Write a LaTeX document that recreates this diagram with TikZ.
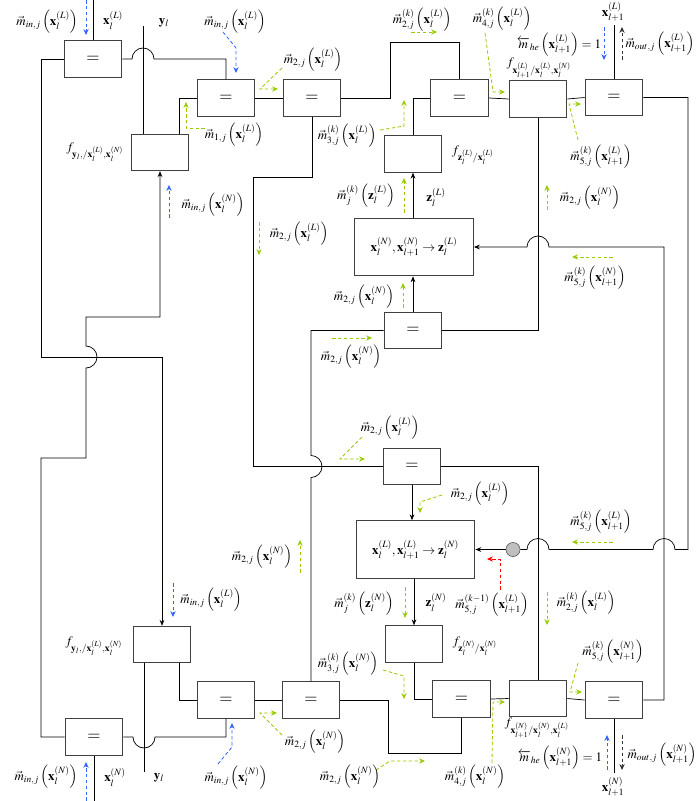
\documentclass[tikz,border=0pt]{standalone}
\usepackage{amsmath,amssymb}
\usepackage{mathptmx}
\usetikzlibrary{arrows.meta,calc}

\definecolor{msggreen}{RGB}{153,204,0}
\definecolor{msgblue}{RGB}{51,102,255}
\definecolor{msgred}{RGB}{255,0,0}

\newcommand{\xv}[2]{\mathbf{x}_{#1}^{(#2)}}
\newcommand{\zv}[1]{\mathbf{z}_{l}^{(#1)}}
\newcommand{\mm}[2]{\vec{m}_{#1}\left(#2\right)}
\newcommand{\mk}[3]{\vec{m}_{#2}^{(#1)}\left(#3\right)}
\newcommand{\mhe}{\overleftarrow{m}}

\tikzset{
  wire/.style={line width=0.6pt},
  wirearrow/.style={wire, -{Stealth[length=5pt,width=4pt]}},
  eqbox/.style={draw=black!75, line width=0.8pt, minimum width=49pt,
    minimum height=31pt, inner sep=0pt, font=\Large},
  fbox/.style={eqbox},
  mapbox/.style={draw=black!75, line width=0.8pt, minimum width=101pt,
    minimum height=49pt, inner sep=0pt},
  lab/.style={inner sep=0.5pt},
  msg/.style={dash pattern=on 3pt off 2pt, line width=0.7pt,
    -{Stealth[length=5pt,width=4.5pt]}},
  gmsg/.style={msg, msggreen},
  bmsg/.style={msg, msgblue},
  rmsg/.style={msg, msgred},
  kmsg/.style={msg, black!80},
}

\begin{document}
\begin{tikzpicture}[x=0.85pt, y=-0.85pt, font=\fontsize{11}{13}\selectfont]
    \useasboundingbox (0,0) rectangle (695,801);
    % factor nodes, upper half
    \node[eqbox] (eqA) at (93,59) {$=$};
    \node[fbox] (fyT) at (160,152.5) {};
    \node[eqbox] (eqB) at (226,98) {$=$};
    \node[eqbox] (eqC) at (312,98) {$=$};
    \node[eqbox] (eqD) at (459.5,98) {$=$};
    \node[fbox] (fxT) at (538,99) {};
    \node[eqbox] (eqJ) at (614,97.5) {$=$};
    \node[fbox] (fzT) at (413,154) {};
    \node[mapbox] (mapT) at (414,247) {$\xv{l}{N},\xv{l+1}{N}\rightarrow\zv{L}$};
    \node[eqbox] (eqG) at (413,330.5) {$=$};
    % factor nodes, lower half
    \node[eqbox] (eqE) at (412,466.5) {$=$};
    \node[mapbox] (mapB) at (415.5,549.5) {$\xv{l}{L},\xv{l+1}{L}\rightarrow\zv{N}$};
    \node[circle, draw=black!75, fill=gray!50, minimum size=12pt, inner sep=0pt] (dot) at (513,549.5) {};
    \node[fbox] (fzB) at (414,644) {};
    \node[eqbox] (eqM) at (461.5,699) {$=$};
    \node[eqbox] (eqH) at (311,700) {$=$};
    \node[fbox] (fxB) at (538,698.5) {};
    \node[eqbox] (eqK) at (614,700) {$=$};
    \node[fbox] (fyB) at (162,644.5) {};
    \node[eqbox] (eqQ) at (226,700) {$=$};
    \node[eqbox] (eqR) at (94,737) {$=$};
    % free ends
    \coordinate (xLin) at (93,0);
    \coordinate (xNin) at (94,801);
    \coordinate (yTop) at (143,26);
    \coordinate (yBot) at (144,772);
    \coordinate (xLout) at (614,25);
    \coordinate (xNout) at (614,773);
    % wires
    \draw[wire] (eqA.north) -- (xLin);
    \draw[wire] (yTop) -- (yTop |- fyT.north);
    \draw[wire] (eqA.east) -- (132,59) arc[start angle=180, end angle=360, radius=11] -| (eqB.north);
    \draw[wirearrow] (eqA.west) -| (41,357) -| (fyB.north);
    \draw[wirearrow] (eqR.west) -| (41,458) -| (86,368) arc[start angle=90, end angle=-90, radius=11]
      |- (160,317) -- (fyT.south);
    \draw[wire] (179,0 |- fyT.north) |- (eqB.west);
    \draw[wire] (eqB.east) -- (eqC.west);
    \draw[wire] (eqC.east) -| (390,42) -| (eqD.north);
    \draw[wire] (eqC.south) |- (253,177) |- (eqE.west);
    \draw[wire] (fzT.north) |- (eqD.west);
    \draw[wirearrow] (fzT.south |- mapT.north) -- (fzT.south);
    \draw[wire] (eqD.east) -- (fxT.west);
    \draw[wire] (fxT.east) -- (eqJ.west);
    \draw[wire] (eqJ.north) -- (xLout);
    \draw[wire] (eqJ.east) -| (688,549.5) -- (675,549.5) arc[start angle=0, end angle=-180, radius=11]
      -- (549,549.5) arc[start angle=0, end angle=-180, radius=11] -- (dot.east);
    \draw[wirearrow] (dot.west) -- (mapB.east);
    \draw[wire] (fxT.south) |- (eqG.east);
    \draw[wirearrow] (eqK.east) -| (664,247) -- (549,247) arc[start angle=0, end angle=-180, radius=11] -- (mapT.east);
    \draw[wirearrow] (eqG.north) -- (eqG.north |- mapT.south);
    \draw[wire] (eqH.north) -- (311,477.5) arc[start angle=90, end angle=-90, radius=11] |- (eqG.west);
    \draw[wirearrow] (eqE.south) -- (eqE.south |- mapB.north);
    \draw[wire] (eqE.east) -| (fxB.north);
    \draw[wirearrow] (fzB.north |- mapB.south) -- (fzB.north);
    \draw[wire] (fzB.south) |- (eqM.west);
    \draw[wire] (eqM.south) |- (388,753) |- (eqH.east);
    \draw[wire] (eqM.east) -- (fxB.west);
    \draw[wire] (fxB.east) -- (eqK.west);
    \draw[wire] (eqK.south) -- (xNout);
    \draw[wire] (yBot |- fyB.south) -- (yBot);
    \draw[wire] (179,0 |- fyB.south) |- (eqQ.west);
    \draw[wire] (eqQ.east) -- (eqH.west);
    \draw[wire] (eqQ.south) |- (155,737) arc[start angle=0, end angle=180, radius=11] -- (eqR.east);
    \draw[wire] (eqR.south) -- (xNin);
    % messages
    \draw[gmsg] (205,128) -- (186,128) -- (186,102);
    \draw[gmsg] (282,68) -- (260,89) -- (278,89);
    \draw[gmsg] (411,32) -- (437,32);
    \draw[gmsg] (485,33) -- (493,92) -- (505,92);
    \draw[gmsg] (578,140) -- (569,104) -- (581,104);
    \draw[gmsg] (380,130) -- (404,126) -- (404,100);
    \draw[gmsg] (259,222) -- (259,255);
    \draw[gmsg] (404,213) -- (404,178);
    \draw[gmsg] (547,210) -- (547,185);
    \draw[gmsg] (613,257) -- (572,257);
    \draw[gmsg] (403,308) -- (403,283);
    \draw[gmsg] (332,338) -- (372,338);
    \draw[gmsg] (362,437) -- (340,459) -- (365,459);
    \draw[gmsg] (442,495) -- (420,502) -- (420,513);
    \draw[gmsg] (613,542) -- (572,542);
    \draw[gmsg] (300,573) -- (300,540);
    \draw[gmsg] (405,587) -- (405,618);
    \draw[gmsg] (547,592) -- (547,625);
    \draw[gmsg] (383,670) -- (404,676) -- (404,699);
    \draw[gmsg] (282,735) -- (260,713) -- (277,713);
    \draw[gmsg] (376,770) -- (390,761) -- (425,761);
    \draw[gmsg] (492,763) -- (493,702) -- (505,702);
    \draw[gmsg] (578,663) -- (570,692) -- (582,692);
    \draw[bmsg] (86,0) -- (86,35);
    \draw[bmsg] (223,32) -- (236,48) -- (236,73);
    \draw[bmsg] (169,218) -- (169,185);
    \draw[bmsg] (173,583) -- (173,617);
    \draw[bmsg] (218,764) -- (232,747) -- (232,723);
    \draw[bmsg] (86,801) -- (86,762);
    \draw[bmsg] (604,27) -- (604,60);
    \draw[bmsg] (607,770) -- (607,735);
    \draw[kmsg] (622,60) -- (622,27);
    \draw[kmsg] (622,735) -- (622,770);
    \draw[rmsg] (500,590) -- (500,559) -- (487,559);
    % labels, upper half
    \node[lab] (lInTL) at (47,22) {$\mm{in,j}{\xv{l}{L}}$};
    \node[lab] (lxL) at (113,20) {$\xv{l}{L}$};
    \node[lab] (lyT) at (164,23) {$\mathbf{y}_l$};
    \node[lab] (lInB) at (235,22) {$\mm{in,j}{\xv{l}{L}}$};
    \node[lab] (lmBC) at (313,60) {$\mm{2,j}{\xv{l}{L}}$};
    \node[lab] (lm2kT) at (422,20) {$\mk{k}{2,j}{\xv{l}{L}}$};
    \node[lab] (lm4kT) at (502,19) {$\mk{k}{4,j}{\xv{l}{L}}$};
    \node[lab] (lxLout) at (613,12) {$\xv{l+1}{L}$};
    \node[lab] (lheT) at (559,45) {$\mhe_{he}\left(\xv{l+1}{L}\right)=1$};
    \node[lab] (loutT) at (660,44) {$\vec{m}_{out,j}\left(\xv{l+1}{L}\right)$};
    \node[lab] (lfxT) at (539,68) {$f_{\xv{l+1}{L}/\xv{l}{L},\xv{l}{N}}$};
    \node[lab] (lm5kT) at (601,157) {$\mk{k}{5,j}{\xv{l+1}{L}}$};
    \node[lab] (lfzT) at (473,155) {$f_{\zv{L}/\xv{l}{L}}$};
    \node[lab] (lm3kT) at (347,136) {$\mk{k}{3,j}{\xv{l}{L}}$};
    \node[lab] (lm1) at (234,135) {$\mm{1,j}{\xv{l}{L}}$};
    \node[lab] (lfyT) at (95,152) {$f_{\mathbf{y}_l,/\xv{l}{L},\xv{l}{N}}$};
    \node[lab] (lInfyT) at (213,205) {$\mm{in,j}{\xv{l}{N}}$};
    \node[lab] (lm2down) at (299,234) {$\mm{2,j}{\xv{l}{L}}$};
    \node[lab] (lmzL) at (366,196) {$\mk{k}{j}{\zv{L}}$};
    \node[lab] (lzL) at (436,197) {$\zv{L}$};
    \node[lab] (lm2NR) at (590,198) {$\mm{2,j}{\xv{l}{N}}$};
    \node[lab] (lm5kN) at (595,278) {$\mk{k}{5,j}{\xv{l+1}{N}}$};
    \node[lab] (lm2G) at (364,297) {$\mm{2,j}{\xv{l}{N}}$};
    \node[lab] (lm2GL) at (351,357) {$\mm{2,j}{\xv{l}{N}}$};
    % labels, lower half
    \node[lab] (lm2E) at (390,428) {$\mm{2,j}{\xv{l}{L}}$};
    \node[lab] (lm2ER) at (480,494) {$\mm{2,j}{\xv{l}{L}}$};
    \node[lab] (lm5kL) at (601,522) {$\mk{k}{5,j}{\xv{l+1}{L}}$};
    \node[lab] (lm2NL) at (262,557) {$\mm{2,j}{\xv{l}{N}}$};
    \node[lab] (lInfyB) at (211,600) {$\mm{in,j}{\xv{l}{L}}$};
    \node[lab] (lmzN) at (364,604) {$\mk{k}{j}{\zv{N}}$};
    \node[lab] (lzN) at (436,602) {$\zv{N}$};
    \node[lab] (lm5old) at (492,605) {$\mk{k-1}{5,j}{\xv{l+1}{L}}$};
    \node[lab] (lm2kB) at (586,603) {$\mk{k}{2,j}{\xv{l}{L}}$};
    \node[lab] (lfzB) at (475,646) {$f_{\zv{N}/\xv{l}{N}}$};
    \node[lab] (lm3kB) at (348,664) {$\mk{k}{3,j}{\xv{l}{N}}$};
    \node[lab] (lm5kB) at (613,652) {$\mk{k}{5,j}{\xv{l+1}{N}}$};
    \node[lab] (lfyB) at (94,646) {$f_{\mathbf{y}_l,/\xv{l}{L},\xv{l}{N}}$};
    \node[lab] (lmQH) at (315,742) {$\mm{2,j}{\xv{l}{N}}$};
    \node[lab] (lfxB) at (537,728) {$f_{\xv{l+1}{N}/\xv{l}{N},\xv{l}{L}}$};
    \node[lab] (lheB) at (560,758) {$\mhe_{he}\left(\xv{l+1}{N}\right)=1$};
    \node[lab] (loutB) at (662,755) {$\vec{m}_{out,j}\left(\xv{l+1}{N}\right)$};
    \node[lab] (lxNout) at (613,787) {$\xv{l+1}{N}$};
    \node[lab] (lm4kB) at (475,777) {$\mk{k}{4,j}{\xv{l}{N}}$};
    \node[lab] (lm2B) at (350,777) {$\mm{2,j}{\xv{l}{N}}$};
    \node[lab] (lInQ) at (236,778) {$\mm{in,j}{\xv{l}{N}}$};
    \node[lab] (lyB) at (159,778) {$\mathbf{y}_l$};
    \node[lab] (lxN) at (115,777) {$\xv{l}{N}$};
    \node[lab] (lInBL) at (46,777) {$\mm{in,j}{\xv{l}{N}}$};
\end{tikzpicture}
\end{document}
